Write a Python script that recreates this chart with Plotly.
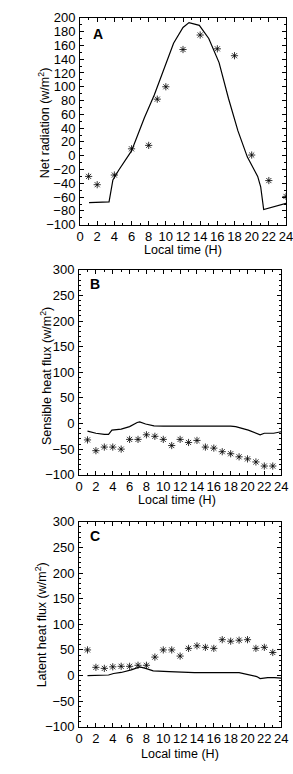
import plotly.graph_objects as go

# ---------------- data ----------------
hours_obs_a = [1, 2, 4, 6, 8, 9, 10, 12, 14, 16, 18, 20, 22, 24]
netrad_obs = [-30, -42, -28, 10, 15, 82, 100, 154, 175, 155, 145, 1, -36, -59]

hours_mod_a = [1.05, 3.38, 3.83, 4.5, 6.0, 7.5, 8.65, 9.77, 10.9, 12.0, 12.7, 13.9, 15.0, 16.2,
               17.3, 18.4, 19.5, 20.7, 21.05, 21.4, 22.2, 24.0]
netrad_mod = [-68, -67, -35, -21, 7, 55, 88, 125, 163, 186, 193, 189, 170, 135,
              83, 36, -2, -30, -45, -78, -75, -69]

hours_obs_bc = list(range(1, 24))
sensible_obs = [-32, -53, -46, -46, -50, -31, -31, -22, -25, -31, -43, -31, -37, -33,
                -46, -48, -55, -59, -65, -69, -75, -83, -83]
latent_obs = [50, 16, 14, 17, 18, 18, 20, 20, 36, 50, 50, 38, 53, 58, 55, 53,
              70, 67, 69, 70, 53, 55, 45]

hours_mod_b = [1.0, 2.0, 3.0, 3.5, 3.9, 5.0, 6.0, 6.9, 7.2, 7.9, 8.9, 10.0, 18.0, 18.6,
               20.1, 21.2, 21.5, 22.0, 23.1, 24.0]
sensible_mod = [-15, -19, -21, -21, -13, -11, -6, 2, 3, -1, -4.5, -5, -5, -6,
                -13, -19, -22, -19, -19, -16]

hours_mod_c = [1.0, 2.0, 3.5, 4.1, 5.0, 6.2, 7.2, 7.9, 8.8, 10.7, 13.7, 19.0, 20.1, 21.1,
               21.5, 22.4, 23.2, 24.0]
latent_mod = [0, 0, 1, 4, 6, 11, 17, 14, 9, 7.5, 5.7, 5.7, 1.3, -2,
              -6, -4, -4, -5]

x_ticks = list(range(0, 25, 2))
x_title = "Local time (H)"
y_titles = ["Net radiation (w/m<sup>2</sup>)",
            "Sensible heat flux (w/m<sup>2</sup>)",
            "Latent heat flux (w/m<sup>2</sup>)"]
panel_labels = ["A", "B", "C"]

# ---------------- layout helpers ----------------
W, H = 293, 774
FONT = "Liberation Sans, Arial, Helvetica, sans-serif"


def px_x(p):
    return p / W


def px_y(p):
    return 1 - p / H


panels = [
    # (left, right, top, bottom) in pixels
    (79, 293, 11, 222),
    (78, 288, 268, 477),
    (78, 288, 525, 734),
]
yranges = [[-100, 200], [-100, 300], [-100, 300]]
ydticks = [20, 50, 50]
yminor = [10, 10, 10]
xtitle_pos = [(186, 248), (180, 503), (183, 762)]
ytitle_pos = [(41, 118), (43, 376), (38, 630)]
label_pos = [(2.1, 177), (1.9, 273), (1.9, 273)]

fig = go.Figure()

line_style = dict(color="black", width=1.2)
marker_style = dict(symbol="asterisk-open", size=6, color="black",
                    line=dict(color="black", width=0.8))

series = [
    (hours_mod_a, netrad_mod, hours_obs_a, netrad_obs),
    (hours_mod_b, sensible_mod, hours_obs_bc, sensible_obs),
    (hours_mod_c, latent_mod, hours_obs_bc, latent_obs),
]

for i, (xm, ym, xo, yo) in enumerate(series):
    ax = "" if i == 0 else str(i + 1)
    fig.add_trace(go.Scatter(x=xm, y=ym, mode="lines", line=line_style,
                             xaxis="x" + ax, yaxis="y" + ax, showlegend=False))
    fig.add_trace(go.Scatter(x=xo, y=yo, mode="markers", marker=marker_style,
                             xaxis="x" + ax, yaxis="y" + ax, showlegend=False))

layout = dict(
    width=W, height=H,
    margin=dict(l=0, r=0, t=0, b=0),
    paper_bgcolor="white", plot_bgcolor="white",
    font=dict(family=FONT, color="black", size=13),
    showlegend=False,
    annotations=[],
)

for i, (l, r, t, b) in enumerate(panels):
    ax = "" if i == 0 else str(i + 1)
    layout["xaxis" + ax] = dict(
        domain=[px_x(l), px_x(r)], anchor="y" + ax, range=[0, 24],
        tickvals=x_ticks, ticks="inside", ticklen=4, tickwidth=1,
        tickcolor="black", showline=True, linecolor="black", linewidth=1,
        mirror="allticks", showgrid=False, zeroline=False, tickangle=0,
        tickfont=dict(size=13, family=FONT), ticklabeloverflow="allow",
        minor=dict(dtick=1, tick0=0, ticks="inside", ticklen=2,
                   tickcolor="black", showgrid=False),
    )
    layout["yaxis" + ax] = dict(
        domain=[px_y(b), px_y(t)], anchor="x" + ax, range=yranges[i],
        dtick=ydticks[i], tick0=0, ticks="inside", ticklen=4, tickwidth=1,
        tickcolor="black", showline=True, linecolor="black", linewidth=1,
        mirror="allticks", showgrid=False, zeroline=False, tickangle=0,
        tickfont=dict(size=13, family=FONT), ticklabelstandoff=1,
        ticklabeloverflow="allow",
        minor=dict(dtick=yminor[i], tick0=0, ticks="inside", ticklen=2,
                   tickcolor="black", showgrid=False),
    )
    layout["annotations"].append(dict(
        text=x_title, xref="paper", yref="paper",
        x=px_x(xtitle_pos[i][0]), y=px_y(xtitle_pos[i][1]),
        xanchor="center", yanchor="middle", showarrow=False,
        font=dict(size=12.5, family=FONT)))
    layout["annotations"].append(dict(
        text=y_titles[i], xref="paper", yref="paper",
        x=px_x(ytitle_pos[i][0]), y=px_y(ytitle_pos[i][1]),
        xanchor="center", yanchor="middle", showarrow=False, textangle=-90,
        font=dict(size=12.5, family=FONT)))
    layout["annotations"].append(dict(
        text="<b>%s</b>" % panel_labels[i], xref="x" + ax, yref="y" + ax,
        x=label_pos[i][0], y=label_pos[i][1],
        xanchor="center", yanchor="middle", showarrow=False,
        font=dict(size=14, family=FONT)))

fig.update_layout(**layout)
fig.write_html("out.html")
